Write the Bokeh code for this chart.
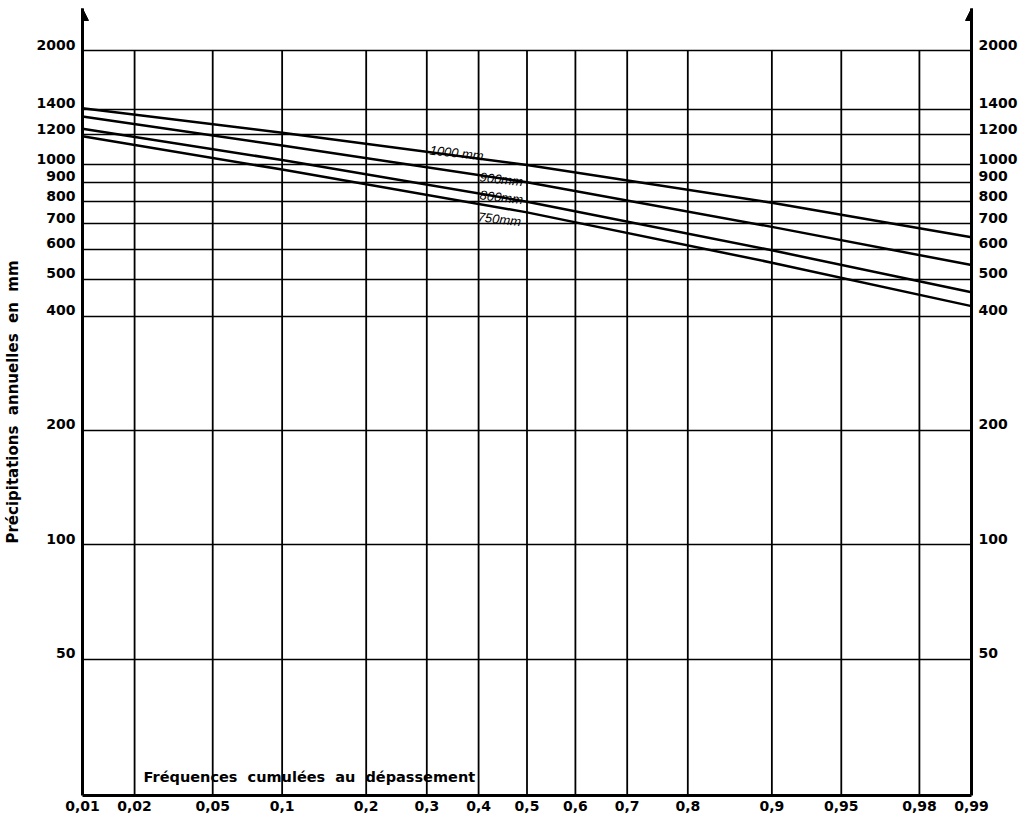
from statistics import NormalDist
from bokeh.plotting import figure
from bokeh.models import (Range1d, FixedTicker, LogAxis, LogScale, Label, Arrow,
                          NormalHead)
from bokeh.embed import file_html
from bokeh.resources import INLINE

# ---------------- data ----------------
x_probs = [0.01, 0.02, 0.05, 0.1, 0.2, 0.3, 0.4, 0.5, 0.6, 0.7, 0.8, 0.9, 0.95, 0.98, 0.99]
x_labels = ["0,01", "0,02", "0,05", "0,1", "0,2", "0,3", "0,4", "0,5",
            "0,6", "0,7", "0,8", "0,9", "0,95", "0,98", "0,99"]
y_ticks = [50, 100, 200, 400, 500, 600, 700, 800, 900, 1000, 1200, 1400, 2000]
y_labels = ["50", "100", "200", "400", "500", "600", "700", "800", "900",
            "1000", "1200", "1400", "2000"]

series_names = ["1000 mm", "900mm", "800mm", "750mm"]
read_probs = [0.01, 0.1, 0.5, 0.9, 0.99]
rain_1000 = [1410, 1215, 1000, 795, 645]
rain_900 = [1340, 1125, 900, 687, 545]
rain_800 = [1245, 1030, 800, 596, 462]
rain_750 = [1190, 972, 750, 553, 425]
series_values = [rain_1000, rain_900, rain_800, rain_750]

# ---------------- scales ----------------
nd = NormalDist()
def z(p):
    return nd.inv_cdf(p)

x_lo, x_hi = z(x_probs[0]), z(x_probs[-1])
y_lo, y_hi = 21.9, 2580.0
# label range: same log scale shifted so that labels sit ~6px above their grid line
shift = 10 ** (-6.0 / 380.0)

FONT = "DejaVu Sans"
SP = " \u00a0"  # wide word spacing

p = figure(width=1020, height=820,
           x_range=Range1d(x_lo, x_hi), y_range=Range1d(y_lo, y_hi),
           y_axis_type="log", output_backend="svg", toolbar_location=None,
           min_border_left=82, min_border_right=49, min_border_top=8,
           min_border_bottom=25)
p.outline_line_color = None
p.background_fill_color = "white"
p.border_fill_color = "white"
p.extra_y_ranges = {"lab": Range1d(y_lo * shift, y_hi * shift)}
p.extra_y_scales = {"lab": LogScale()}

# x axis (probability scale)
xz = [z(v) for v in x_probs]
xa = p.xaxis[0]
xa.ticker = FixedTicker(ticks=xz)
xa.major_label_overrides = {t: lab for t, lab in zip(xz, x_labels)}
xa.major_tick_line_color = None
xa.major_tick_out = 0
xa.major_tick_in = 0
xa.minor_tick_line_color = None
xa.axis_line_width = 3
xa.axis_line_color = "black"
xa.major_label_text_font = FONT
xa.major_label_text_font_style = "bold"
xa.major_label_text_font_size = "14px"
xa.major_label_text_color = "black"
xa.major_label_standoff = 5

def style_y(ax):
    ax.y_range_name = "lab"
    ax.ticker = FixedTicker(ticks=y_ticks)
    ax.major_label_overrides = {t: lab for t, lab in zip(y_ticks, y_labels)}
    ax.major_tick_line_color = None
    ax.major_tick_out = 0
    ax.major_tick_in = 0
    ax.minor_tick_line_color = None
    ax.axis_line_width = 3
    ax.axis_line_color = "black"
    ax.major_label_text_font = FONT
    ax.major_label_text_font_style = "bold"
    ax.major_label_text_font_size = "14px"
    ax.major_label_text_color = "black"
    ax.major_label_standoff = 7

ya = p.yaxis[0]
style_y(ya)
ya.axis_label = "Précipitations" + SP + "annuelles" + SP + "en" + SP + "mm"
ya.axis_label_text_font = FONT
ya.axis_label_text_font_style = "bold"
ya.axis_label_text_font_size = "15px"
ya.axis_label_text_color = "black"
ya.axis_label_standoff = 12

ra = LogAxis()
style_y(ra)
p.add_layout(ra, "right")

# grid
p.xgrid.visible = False
p.ygrid[0].ticker = FixedTicker(ticks=y_ticks)
p.ygrid[0].grid_line_color = "black"
p.ygrid[0].grid_line_width = 1.5

inner = xz[1:-1]
p.segment(x0=inner, y0=[y_lo] * len(inner), x1=inner, y1=[max(y_ticks)] * len(inner),
          line_color="black", line_width=1.8)

# curves
rz = [z(q) for q in read_probs]
for vals in series_values:
    p.line(rz, vals, line_color="black", line_width=2.5)

# curve labels (positions in probability-scale units)
label_pos = [(-0.509, 1095), (-0.247, 930), (-0.247, 834), (-0.257, 730)]
for name, (lx, ly) in zip(series_names, label_pos):
    p.add_layout(Label(x=lx, y=ly, text=name, angle=-0.11,
                       text_font="Liberation Sans", text_font_style="italic",
                       text_font_size="13px", text_color="black",
                       text_baseline="alphabetic", text_align="left"))

# x title inside the plot
p.add_layout(Label(x=xz[1], y=y_lo, x_offset=9, y_offset=11,
                   text="Fréquences" + SP + "cumulées" + SP + "au" + SP + "dépassement",
                   text_font=FONT, text_font_style="bold", text_font_size="14.5px",
                   text_color="black", text_baseline="bottom", text_align="left"))

# arrows on the vertical axes
for ax_x in (x_lo, x_hi):
    p.add_layout(Arrow(end=NormalHead(size=12, fill_color="black", line_color="black"),
                       x_start=ax_x, y_start=max(y_ticks), x_end=ax_x, y_end=y_hi,
                       line_color="black", line_width=3))

open("out.html", "w").write(file_html(p, INLINE))
